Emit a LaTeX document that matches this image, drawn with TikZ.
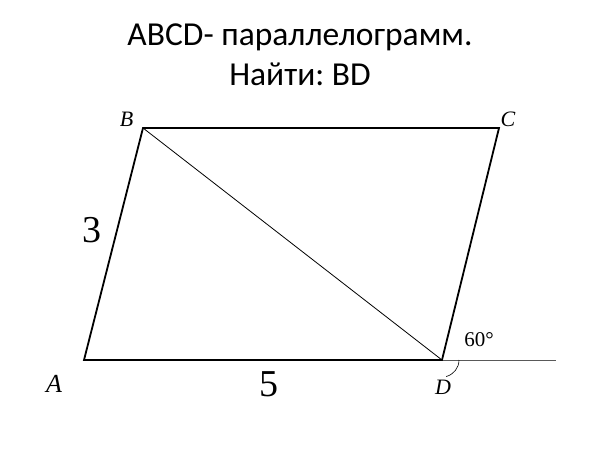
\documentclass[tikz,border=0pt]{standalone}
\usepackage{fontspec}
\setmainfont{Liberation Serif}
\newfontfamily\titlefont{Carlito}
\frenchspacing
\begin{document}
\begin{tikzpicture}[x=1pt,y=-1pt,
  side/.style={line width=1.8pt,line join=miter},
  thin/.style={line width=0.8pt},
  ptlabel/.style={font=\fontsize{22}{22}\selectfont\itshape,inner sep=0pt},
  numlabel/.style={font=\fontsize{38}{38}\selectfont,inner sep=0pt},
  titletext/.style={font=\titlefont\fontsize{33.5}{40}\selectfont,align=center,inner sep=0pt}]
\useasboundingbox[fill=white] (0,0) rectangle (600,450);
\coordinate (A) at (84,360);
\coordinate (B) at (143,128);
\coordinate (C) at (499,128);
\coordinate (D) at (442,360);
\coordinate (E) at (556,360);
\node[titletext,anchor=base] (t1) at (300,45) {ABCD- параллелограмм.};
\node[titletext,anchor=base] (t2) at (300,85) {Найти: BD};
\draw[thin,gray!70!black] (D) -- (E);
\draw[thin] (B) -- (D);
\draw[side] (A) -- (B) -- (C) -- (D) -- cycle;
\draw[line width=0.6pt] ([xshift=17pt]D) arc[start angle=0,end angle=-76,radius=17pt];
\node[ptlabel] (lB) at (126.5,119.5) {B};
\node[ptlabel] (lC) at (508,119.5) {C};
\node[ptlabel,font=\fontsize{26}{26}\selectfont\itshape] (lA) at (54,384) {A};
\node[ptlabel] (lD) at (443,387) {D};
\node[numlabel] (n3) at (92,230) {3};
\node[numlabel] (n5) at (268.5,384) {5};
\node[font=\fontsize{21}{21}\selectfont,inner sep=0pt] (ang) at (479,340) {60°};
\end{tikzpicture}
\end{document}
